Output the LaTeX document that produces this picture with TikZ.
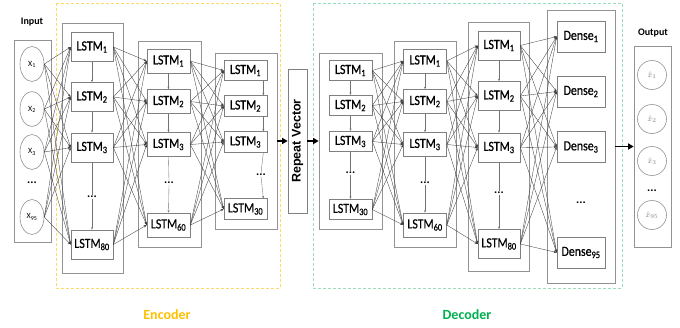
\documentclass[tikz,border=0pt]{standalone}
\usepackage{fontspec}
\setmainfont{Carlito}
\newfontfamily\narrowfont[FakeStretch=0.85,FakeBold=0.6]{Carlito}
\newfontfamily\arialfont{Liberation Sans}
\usepackage{tikz}
\usetikzlibrary{arrows.meta,shapes.geometric}
\definecolor{encgold}{HTML}{FFC000}
\definecolor{decgreen}{HTML}{00B050}
\definecolor{encdash}{HTML}{FFD966}
\definecolor{decdash}{HTML}{9ADDBB}

\begin{document}
\begin{tikzpicture}[x=1pt,y=-1pt]
\tikzstyle{cell}=[draw=gray,line width=0.7pt,fill=white,inner sep=0pt,font=\narrowfont\fontsize{14}{14}\selectfont]
\tikzstyle{cellbig}=[cell,minimum width=42pt,minimum height=29pt]
\tikzstyle{cellmid}=[cell,minimum width=43pt,minimum height=24pt]
\tikzstyle{cellsmall}=[cell,minimum width=43pt,minimum height=20.5pt]
\tikzstyle{densecell}=[cell,minimum width=48pt,minimum height=31pt]
\tikzstyle{layer}=[draw=gray!85,line width=0.7pt,inner sep=0pt]
\tikzstyle{unit}=[draw=gray!85,line width=0.6pt,inner sep=0pt,font=\fontsize{8}{8}\selectfont]
\tikzstyle{conn}=[-{Stealth[length=3pt,width=2.4pt]},line width=0.35pt,draw=black!75]
\tikzstyle{down}=[-{Stealth[length=2.5pt,width=2pt]},line width=0.35pt,draw=black!55]
\tikzstyle{bigarrow}=[-{Triangle[length=5.5pt,width=6pt]},line width=1.6pt,draw=black]
\tikzstyle{dots}=[inner sep=0.5pt,fill=white,font=\bfseries\fontsize{12}{12}\selectfont]
\tikzstyle{title}=[font=\bfseries\fontsize{10}{10}\selectfont]
\useasboundingbox (0,0) rectangle (680,327);

% encoder / decoder groups
\draw[draw=encdash,line width=0.8pt,dash pattern=on 3pt off 2pt] (56,3) rectangle (280,288);
\draw[draw=decdash,line width=0.8pt,dash pattern=on 3pt off 2pt] (313,3) rectangle (622,288);
\node[font=\bfseries\fontsize{14}{14}\selectfont,text=encgold] (enc) at (167,315) {Encoder};
\node[font=\bfseries\fontsize{14}{14}\selectfont,text=decgreen] (dec) at (467,315) {Decoder};

% input
\node[title] (inlab) at (32,22) {Input};
\node[layer,minimum width=37pt,minimum height=202pt] (layIn) at (32.5,141) {};
\node[unit,ellipse,minimum width=24pt,minimum height=35pt] (in1) at (32,64) {X\textsubscript{1}};
\node[unit,ellipse,minimum width=24pt,minimum height=35pt] (in2) at (32,109) {X\textsubscript{2}};
\node[unit,ellipse,minimum width=24pt,minimum height=35pt] (in3) at (32,152) {X\textsubscript{3}};
\node[unit,ellipse,minimum width=24pt,minimum height=35pt] (in4) at (32,217) {X\textsubscript{95}};

% encoder layers
\node[layer,minimum width=61pt,minimum height=250pt] (layA) at (92.5,148) {};
\node[cellbig] (A1) at (92,47) {LSTM\textsubscript{1}};
\node[cellbig] (A2) at (92,97) {LSTM\textsubscript{2}};
\node[cellbig] (A3) at (92,147.5) {LSTM\textsubscript{3}};
\node[cellbig] (A4) at (92,244.5) {LSTM\textsubscript{80}};

\node[layer,minimum width=63pt,minimum height=206pt] (layB) at (169.5,144) {};
\node[cellmid] (B1) at (168.5,61) {LSTM\textsubscript{1}};
\node[cellmid] (B2) at (168.5,101.5) {LSTM\textsubscript{2}};
\node[cellmid] (B3) at (168.5,144.5) {LSTM\textsubscript{3}};
\node[cellmid] (B4) at (168.5,225) {LSTM\textsubscript{60}};

\node[layer,minimum width=62pt,minimum height=176pt] (layC) at (246,141) {};
\node[cellsmall] (C1) at (245.5,70.5) {LSTM\textsubscript{1}};
\node[cellsmall] (C2) at (245.5,106) {LSTM\textsubscript{2}};
\node[cellsmall] (C3) at (245.5,142) {LSTM\textsubscript{3}};
\node[cellsmall] (C4) at (245.5,209) {LSTM\textsubscript{30}};

% repeat vector
\node[draw=gray,line width=0.7pt,rotate=90,minimum width=144pt,minimum height=19pt,inner sep=0pt,
      font=\arialfont\bfseries\fontsize{12.5}{12.5}\selectfont] (rep) at (297.5,141) {Repeat Vector};

% decoder layers
\node[layer,minimum width=63pt,minimum height=176pt] (layD) at (350.5,141) {};
\node[cellsmall] (D1) at (350.5,70.5) {LSTM\textsubscript{1}};
\node[cellsmall] (D2) at (350.5,105.5) {LSTM\textsubscript{2}};
\node[cellsmall] (D3) at (350.5,141.5) {LSTM\textsubscript{3}};
\node[cellsmall] (D4) at (350.5,209.5) {LSTM\textsubscript{30}};

\node[layer,minimum width=62pt,minimum height=206pt] (layE) at (425,144) {};
\node[cellmid] (E1) at (425,61) {LSTM\textsubscript{1}};
\node[cellmid] (E2) at (425,101.5) {LSTM\textsubscript{2}};
\node[cellmid] (E3) at (425,144.5) {LSTM\textsubscript{3}};
\node[cellmid] (E4) at (425,225) {LSTM\textsubscript{60}};

\node[layer,minimum width=61pt,minimum height=249pt] (layF) at (498.5,146.5) {};
\node[cellbig] (F1) at (499,45.5) {LSTM\textsubscript{1}};
\node[cellbig] (F2) at (499,96) {LSTM\textsubscript{2}};
\node[cellbig] (F3) at (499,147.5) {LSTM\textsubscript{3}};
\node[cellbig] (F4) at (499,244) {LSTM\textsubscript{80}};

\node[layer,minimum width=68pt,minimum height=273pt] (layG) at (581,146.5) {};
\node[densecell] (G1) at (581,36.5) {Dense\textsubscript{1}};
\node[densecell] (G2) at (581,91.5) {Dense\textsubscript{2}};
\node[densecell] (G3) at (581,147) {Dense\textsubscript{3}};
\node[densecell] (G4) at (581,252.5) {Dense\textsubscript{95}};

% output
\node[title] (outlab) at (653,33) {Output};
\node[layer,minimum width=37pt,minimum height=201pt] (layOut) at (652.5,146.5) {};
\node[unit,circle,minimum size=29pt,text=gray] (out1) at (652,75) {$\hat{x}_{1}$};
\node[unit,circle,minimum size=29pt,text=gray] (out2) at (652,119) {$\hat{x}_{2}$};
\node[unit,circle,minimum size=29pt,text=gray] (out3) at (652,161) {$\hat{x}_{3}$};
\node[unit,circle,minimum size=29pt,text=gray] (out4) at (652,215) {$\hat{x}_{95}$};

% dots
\node[dots] (dIn) at (32,183) {...};
\node[dots] (dA) at (92,197) {...};
\node[dots] (dB) at (169,183) {...};
\node[dots] (dC) at (261,175) {...};
\node[dots] (dD) at (350.5,173) {...};
\node[dots] (dE) at (425,183) {...};
\node[dots] (dF) at (499,193) {...};
\node[dots] (dG) at (581,203) {...};
\node[dots] (dOut) at (652,191) {...};

% fully connected
\foreach \s in {in1,in2,in3,in4}
  \foreach \t in {A1,A2,A3,A4}
    \draw[conn] (\s.east) -- (\t.west);
\foreach \a/\b in {A/B,B/C,D/E,E/F,F/G}
  \foreach \i in {1,2,3,4}
    \foreach \j in {1,2,3,4}
      \draw[conn] (\a\i.east) -- (\b\j.west);

% recurrence inside layers
\foreach \L in {A,B,D,E,F} {
  \draw[down] (\L1.south) -- (\L2.north);
  \draw[down] (\L2.south) -- (\L3.north);
  \draw[down,-] (\L3.south) -- (d\L.north);
  \draw[down] (d\L.south) -- (\L4.north);
}
\draw[down] ([xshift=-4pt]C1.south east) -- ([xshift=-4pt]C2.north east);
\draw[down] ([xshift=-4pt]C2.south east) -- ([xshift=-4pt]C3.north east);
\draw[down,-] ([xshift=-4pt]C3.south east) -- (dC.north);
\draw[down] (dC.south) -- ([xshift=-4pt]C4.north east);

% main flow
\draw[bigarrow] (layC.east) -- (rep);
\draw[bigarrow] (rep) -- (layD.west);
\draw[bigarrow] (layG.east) -- (layOut.west);
\end{tikzpicture}
\end{document}
